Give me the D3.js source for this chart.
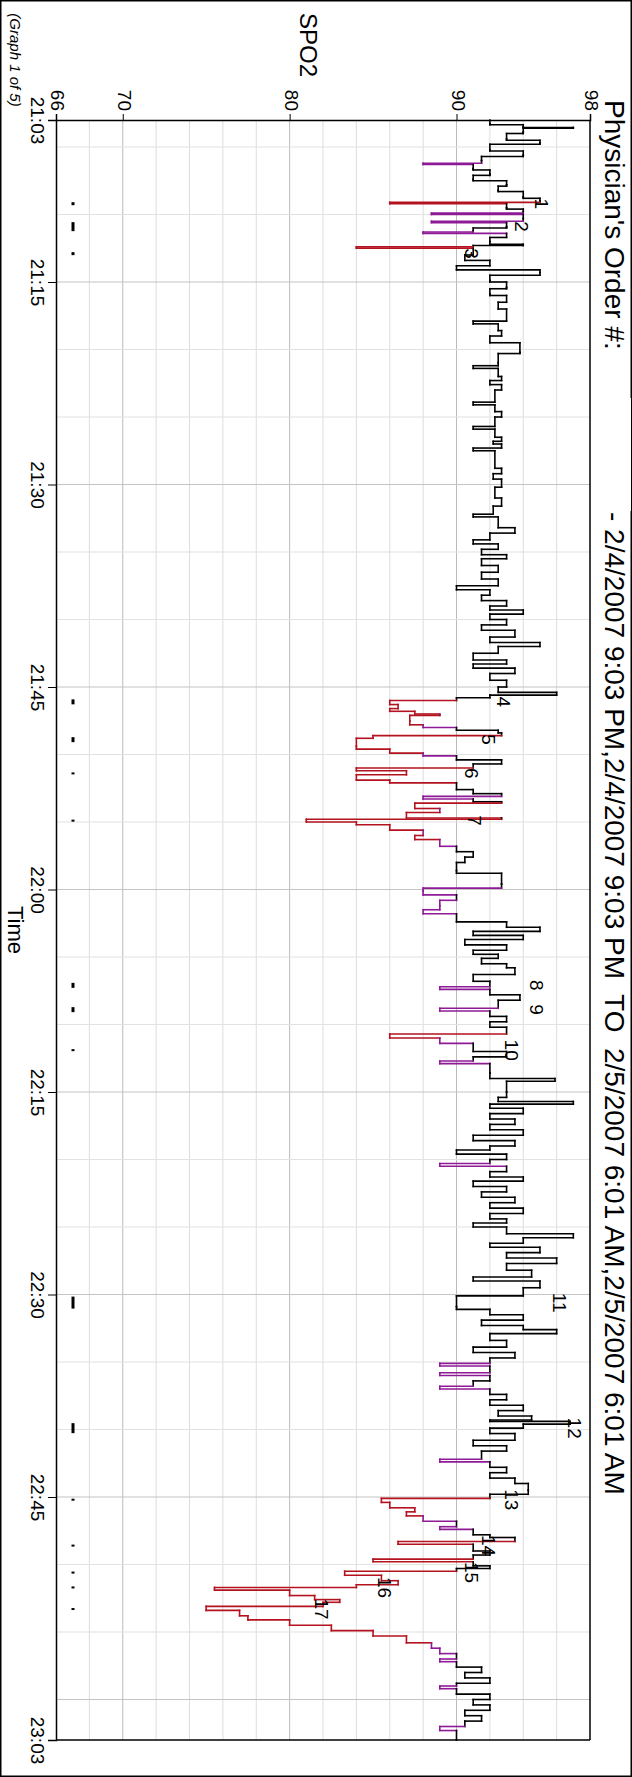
<!DOCTYPE html>
<html>
<head>
<meta charset="utf-8">
<title>SPO2 Graph 1 of 5</title>
<script src="https://cdnjs.cloudflare.com/ajax/libs/d3/7.8.5/d3.min.js"></script>
<style>
  body { margin: 0; background: #fff; }
  svg text { font-family: "Liberation Sans", Arial, sans-serif; fill: #000; white-space: pre; }
</style>
</head>
<body>
<script>
// SPO2 axis
var spo2Ticks = [66, 70, 80, 90, 98];
var timeTicks = ["21:03","21:15","21:30","21:45","22:00","22:15","22:30","22:45","23:03"];
var timeTickMin = [0, 12, 27, 42, 57, 72, 87, 102, 120];

// [minutes after 21:03, SPO2]
var spo2Samples = [
 [0,92],[0.3,92],[0.35,94],[0.5,94],[0.55,97],[0.6,94],[0.9,94],[1,93],[1.4,93],[1.5,95],[1.7,95],[1.8,92],[2.2,92],[2.3,94],[2.6,94],[2.7,91.5],[3.0,91.5],[3.2,88],[3.3,91],[3.6,91],[3.7,92],[4.0,92],[4.1,91],[4.4,91],[4.5,93],[4.8,93],[4.9,92.5],[5.2,92.5],[5.3,94],[5.7,94],[5.8,95],[6.0,95],[6.1,86],[6.2,93],[6.5,93],[6.6,94],[6.8,94],[6.9,88.5],[7.0,94],[7.3,94],[7.5,88.5],[7.6,93],[7.9,93],[8.0,91],[8.2,91],[8.3,88],[8.4,93],[8.7,92],[9.0,92],[9.2,94],[9.3,91],[9.4,84],[9.5,91],[10.0,90.5],[10.4,92],[10.8,90],[11.1,95],[11.3,95],[11.5,92],[11.9,92],[12.0,93],[12.4,93],[12.5,92],[12.9,92],[13.0,93],[13.5,92.5],[14,93],
 [14.9,91],[15.1,92.5],[15.6,92.7],[16,92],[16.5,93.8],[17.2,93.8],[17.3,92.5],[18.0,92.5],[18.2,91],[18.4,92.5],[19,92.7],[19.3,92],[19.6,92.7],[20,92.3],[20.9,91],[21.1,92.3],[21.6,92.7],[22,92.3],[22.7,91],[22.9,92.3],[23.5,92.7],[23.8,92.2],[24.0,92.7],[24.3,91],[24.5,92.3],[25.8,92.7],[26.2,92.2],[26.6,92.7],[27.2,92.3],[28,92.7],[28.6,92.2],[29.2,91],[29.4,92.5],
 [30.2,93.5],[30.6,92],[31.1,91],[31.4,92.5],[31.8,91.5],[32.2,93],[32.5,91.5],[33,92.5],[33.5,91.5],[34.0,92.5],[34.5,90],[34.8,92],[35.2,91.5],[35.6,93],[36,92],[36.3,94],[36.6,92],[37,93],[37.4,91.5],[37.8,93.5],[38.3,92],[38.7,95],[39,92.5],[39.5,91],[40,93],[40.3,91],[40.6,93.5],[41,92],[41.5,93],[42,92.5],[42.4,96],[42.6,92],
 [42.8,90],[43.0,86],[43.3,86.5],[43.6,86],[43.8,87.5],[44.0,89],[44.1,87.2],[44.5,87.2],[44.8,88],[45.0,90],[45.2,92.5],[45.4,92.7],[45.6,85],[45.8,84],[46.4,84],[46.6,86],[46.9,88],[47.1,90],[47.4,92.7],[47.7,91],[48.0,84],[48.2,87],[48.5,84],[48.9,86],[49.1,90],[49.6,91],[49.9,92.7],[50.1,88],[50.3,91],[50.5,92.7],[50.6,87.5],[51.0,89],[51.3,87],[51.7,92.7],[51.8,81],[52.0,84],[52.2,86],[52.6,88],[53.0,87.5],[53.3,89],[53.8,90],[54.2,91],[54.6,90.5],[55,90],[55.6,90],[55.8,92.7],[56.6,92.7],[56.9,88],[57.1,88],[57.4,90],[57.8,89],[58.2,89],[58.5,88],[58.8,90],[59.4,93],[59.8,95],
 [60.1,91],[60.4,94],[60.7,90.5],[61.1,93],[61.5,91],[61.8,92.5],[62.1,91.5],[62.5,93],[62.8,93.5],[63.3,91],[63.8,92],[64.2,89],[64.4,92],[64.8,93.8],[65.2,92.5],[65.8,89],[66.0,92],[66.4,93],[66.8,92],[67.2,93],[67.7,86],[68.0,89],[68.4,91],[69.0,93],[69.4,91],[69.7,89],[69.9,92],[70.6,92],[71.0,95.9],[71.2,93],[72.0,93],[72.4,92.5],[72.7,97],[72.9,92],[73.2,94],[73.6,92],[74,93.5],[74.4,92],[74.8,94],
 [75.2,91],[75.6,93.5],[76.0,92],[76.3,90],[76.6,93],[77.0,92],[77.3,89],[77.5,93],[77.9,92],[78.3,94],[78.6,91],[79,93],[79.4,91.5],[79.8,93.5],[80.2,92],[80.6,94],[81,92],[81.4,93],[81.7,91],[82.0,93],[82.5,97],[82.8,94],[83.2,92],[83.5,95],[83.9,93],[84.3,96],[84.7,93],[85.2,94.5],[85.7,91],[86.0,95],[86.5,94],[87.1,90],[87.9,90],[88.1,92],[88.5,94],[88.9,91.5],[89.3,94],
 [89.6,96],[89.9,92],[90.4,93],[90.9,91],[91.3,93.5],[91.7,92],[92.1,89],[92.3,92],[92.8,89],[93.0,92],[93.4,91],[93.8,89],[94,92],[94.4,93],[94.8,92],[95.2,94],[95.6,92.5],[96.0,94.5],[96.3,92],[96.4,96.8],[96.6,94],[96.9,92],[97.3,93.5],[97.8,91],[98.2,93],[98.6,91.5],[99.2,89],[99.4,92],[99.8,93],[100.2,92],[100.6,93.5],[101,94.3],[101.5,94.3],[101.8,92],
 [102.1,85.5],[102.4,86],[102.8,87.5],[103.1,87],[103.4,88],[103.8,90],[104.2,89],[104.4,91],[104.8,92],[105.0,93.5],[105.3,86.5],[105.5,91],[106.0,92],[106.3,91],[106.6,85],[106.8,91],[107.1,92],[107.3,90],[107.5,83.3],[107.8,85.5],[108.2,86.5],[108.5,84],[108.7,75.5],[108.9,80],[109.3,81.5],[109.6,83],[109.8,82],[110.1,75],[110.4,77],[110.8,77.5],[111.1,80],[111.5,82.5],[111.9,85],[112.3,87],[112.8,88.5],[113.2,89],[113.6,90],[114.0,89],[114.2,90],[114.6,91.5],[115,90.5],[115.4,92],[115.8,90],[116,89],[116.2,90],[116.6,92],[117,91],[117.4,92],[117.8,90.5],[118.2,91.5],[118.6,90.5],[119,89],[119.3,90],[120,90]
];

// numbered events: minute, and SPO2 position of the number
var eventMin = [6.2, 7.9, 9.9, 43.1, 45.9, 48.4, 51.9, 64.1, 65.9, 68.9, 87.6, 96.9, 102.2, 105.6, 107.6, 108.7, 110.3];
var eventLabelVal = [95, 93.8, 90.8, 92.7, 91.8, 90.8, 91, 94.7, 94.7, 93.2, 96.1, 97, 93.2, 91.8, 90.8, 85.6, 81.8];
var eventMarkLen = [3, 9, 3, 5, 5, 2, 2, 5, 5, 2, 12, 10, 2, 2, 2, 2, 2];

var W = 632, H = 1777;
var svg = d3.select("body").append("svg").attr("width", W).attr("height", H);

var x = d3.scaleLinear().domain([66, 98]).range([56, 590]);
var y = d3.scaleLinear().domain([0, 120]).range([120, 1740]);

// frame
svg.append("rect").attr("x", 0.5).attr("y", 0.5).attr("width", W - 1).attr("height", H - 1)
  .attr("fill", "none").attr("stroke", "#000").attr("stroke-width", 2);

// grid
var g = svg.append("g");
g.selectAll(".gv").data(d3.range(68, 98, 2)).enter().append("line")
  .attr("x1", d => x(d)).attr("x2", d => x(d)).attr("y1", y(0)).attr("y2", y(120))
  .attr("stroke", d => d % 10 == 0 ? "#bbb" : "#ddd").attr("stroke-width", 1);
g.selectAll(".gh").data(d3.range(2, 120, 5)).enter().append("line")
  .attr("x1", x(66)).attr("x2", x(98)).attr("y1", d => y(d)).attr("y2", d => y(d))
  .attr("stroke", d => (d - 12) % 15 == 0 ? "#c4c4c4" : "#e2e2e2").attr("stroke-width", 1.2);

// trace as steps: hold each reading until the next one, then jump
var segs = [];
for (var i = 1; i < spo2Samples.length; i++) {
  var a = spo2Samples[i - 1], b = spo2Samples[i];
  segs.push([[a[0], a[1]], [b[0], a[1]]]);
  segs.push([[b[0], a[1]], [b[0], b[1]]]);
}
function segColor(s) {
  var m = Math.min(s[0][1], s[1][1]);
  return m < 88 ? "#b3121e" : (m < 90 ? "#8e1a96" : "#000");
}
svg.append("g").selectAll("line").data(segs).enter().append("line")
  .attr("x1", d => x(d[0][1])).attr("y1", d => y(d[0][0]))
  .attr("x2", d => x(d[1][1])).attr("y2", d => y(d[1][0]))
  .attr("stroke", segColor).attr("stroke-width", 1.6).attr("stroke-linecap", "square");

// event marks near left edge
svg.append("g").selectAll("line").data(eventMin).enter().append("line")
  .attr("x1", 73).attr("x2", 73)
  .attr("y1", (d, i) => y(d) - eventMarkLen[i] / 2).attr("y2", (d, i) => y(d) + eventMarkLen[i] / 2)
  .attr("stroke", "#000").attr("stroke-width", 3);

// event numbers
svg.append("g").selectAll("text").data(eventMin).enter().append("text")
  .attr("transform", (d, i) => "translate(" + x(eventLabelVal[i]) + "," + y(d) + ") rotate(90)")
  .attr("text-anchor", "middle").attr("dominant-baseline", "middle")
  .style("font-size", "19px").text((d, i) => i + 1);

// SPO2 axis (top)
var ax = svg.append("g").attr("transform", "translate(0," + y(0) + ")")
  .call(d3.axisTop(x).tickValues(spo2Ticks).tickSize(6).tickFormat(d3.format("d")));
ax.select(".domain").attr("stroke-width", 1.5);
ax.selectAll("text").attr("transform", "rotate(90)").attr("x", -9).attr("y", 0).attr("dy", null)
  .attr("text-anchor", "end").attr("dominant-baseline", "middle").style("font-size", "19px");

// time axis (left)
var ay = svg.append("g").attr("transform", "translate(" + x(66) + ",0)")
  .call(d3.axisLeft(y).tickValues(timeTickMin).tickSize(8).tickFormat((d, i) => timeTicks[i]));
ay.select(".domain").attr("stroke-width", 1.5);
ay.selectAll("text").attr("transform", "rotate(90)").attr("x", 0).attr("y", 11).attr("dy", null)
  .attr("text-anchor", "middle").attr("dominant-baseline", "hanging").style("font-size", "19px");

// bottom & right borders
svg.append("line").attr("x1", x(66)).attr("x2", x(98)).attr("y1", y(120)).attr("y2", y(120))
  .attr("stroke", "#000").attr("stroke-width", 1.5);
svg.append("line").attr("x1", x(98)).attr("x2", x(98)).attr("y1", y(0)).attr("y2", y(120))
  .attr("stroke", "#000").attr("stroke-width", 1.5);

// axis titles
svg.append("text").attr("transform", "translate(306,45) rotate(90)")
  .attr("text-anchor", "middle").attr("dominant-baseline", "middle").style("font-size", "24px").text("SPO2");
svg.append("text").attr("transform", "translate(14,930) rotate(90)")
  .attr("text-anchor", "middle").attr("dominant-baseline", "middle").style("font-size", "22px").text("Time");
svg.append("text").attr("transform", "translate(14,60) rotate(90)")
  .attr("text-anchor", "middle").attr("dominant-baseline", "middle")
  .style("font-size", "15px").style("font-style", "italic").text("(Graph 1 of 5)");

// header
svg.append("rect").attr("x", 591).attr("y", 398).attr("width", 40).attr("height", 113).attr("fill", "#fff");
svg.append("text").attr("transform", "translate(612,100) rotate(90)")
  .attr("dominant-baseline", "middle").style("font-size", "28px").text("Physician's Order #:");
svg.append("text").attr("transform", "translate(612,512) rotate(90)")
  .attr("dominant-baseline", "middle").style("font-size", "28px")
  .text("- 2/4/2007 9:03 PM,2/4/2007 9:03 PM  TO  2/5/2007 6:01 AM,2/5/2007 6:01 AM");
</script>
</body>
</html>
